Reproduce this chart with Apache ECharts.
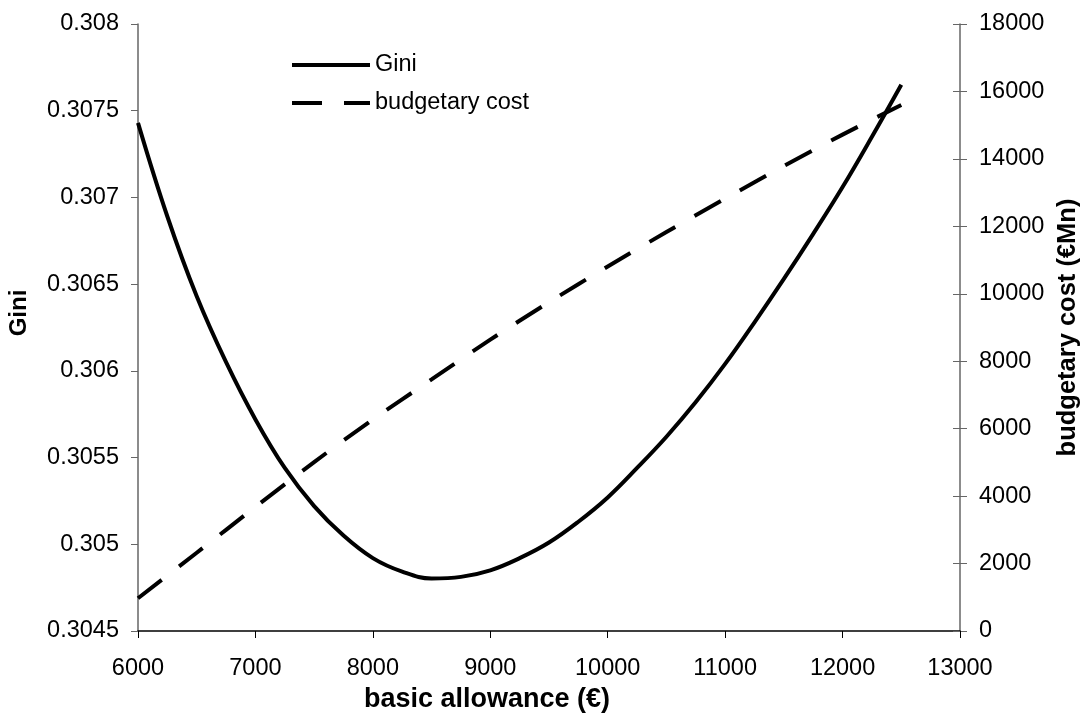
<!DOCTYPE html>
<html>
<head>
<meta charset="utf-8">
<script src="https://cdn.jsdelivr.net/npm/echarts@6/dist/echarts.min.js"></script>
<style>
html,body{margin:0;padding:0;background:#fff;}
#c{width:1083px;height:720px;}
</style>
</head>
<body>
<div id="c"></div>
<script>
// basic allowance (€)
const allowance = [6000,6250,6500,6750,7000,7250,7500,7750,8000,8250,8500,8750,9000,9250,9500,9750,10000,10250,10500,10750,11000,11250,11500,11750,12000,12250,12500];
const gini = [0.30743,0.30689,0.30643,0.30605,0.30572,0.30544,0.30522,0.30505,0.30492,0.304842,0.304803,0.304812,0.30485,0.30492,0.30501,0.30513,0.30527,0.30544,0.30562,0.30582,0.30604,0.30628,0.30653,0.30679,0.30706,0.30735,0.30765];
const costAllowance = [6000,6500,7000,7500,8000,8500,9000,9500,10000,10500,11000,11500,12000,12500];
const cost = [970,2320,3680,5010,6270,7460,8640,9750,10810,11830,12820,13790,14720,15600];

const FONT = 'Liberation Sans, Arial, sans-serif';
const giniData = allowance.map((x,i)=>[x,gini[i]]);
const costData = costAllowance.map((x,i)=>[x,cost[i]]);

const chart = echarts.init(document.getElementById('c'));
chart.setOption({
  animation:false,
  backgroundColor:'#fff',
  textStyle:{fontFamily:FONT},
  grid:{left:138,right:123,top:24,bottom:89,containLabel:false,outerBoundsMode:'none'},
  legend:{
    orient:'vertical', left:290, top:53, padding:0, itemWidth:78, itemHeight:14, itemGap:14,
    itemStyle:{opacity:0},
    lineStyle:{width:4},
    textStyle:{fontFamily:FONT,fontSize:23.5,color:'#000'},
    data:[{name:'Gini'},{name:'budgetary cost'}]
  },
  xAxis:{
    type:'value', min:6000, max:13000, interval:1000,
    name:'basic allowance (€)', nameLocation:'middle', nameGap:55,
    nameTextStyle:{fontFamily:FONT,fontSize:27,fontWeight:'bold',color:'#000',padding:[0,124,0,0]},
    axisLine:{show:true,onZero:false,lineStyle:{color:'#000',width:1.5}},
    axisTick:{show:true,length:7,lineStyle:{color:'#000'}},
    axisLabel:{fontFamily:FONT,fontSize:23.5,color:'#000',margin:26,formatter:v=>String(v)},
    splitLine:{show:false}
  },
  yAxis:[
    {
      type:'value', min:0.3045, max:0.308, interval:0.0005, position:'left',
      name:'Gini', nameLocation:'middle', nameGap:107, nameRotate:90,
      nameTextStyle:{fontFamily:FONT,fontSize:24,fontWeight:'bold',color:'#000',padding:[0,0,0,29]},
      axisLine:{show:true,lineStyle:{color:'#666',width:1.5}},
      axisTick:{show:true,length:7,lineStyle:{color:'#666'}},
      axisLabel:{fontFamily:FONT,fontSize:23.5,color:'#000',margin:19,formatter:v=>String(+v.toFixed(4))},
      splitLine:{show:false}
    },
    {
      type:'value', min:0, max:18000, interval:2000, position:'right',
      name:'budgetary cost (€Mn)', nameLocation:'middle', nameGap:92, nameRotate:90,
      nameTextStyle:{fontFamily:FONT,fontSize:25.5,fontWeight:'bold',color:'#000'},
      axisLine:{show:true,lineStyle:{color:'#666',width:1.5}},
      axisTick:{show:true,length:7,lineStyle:{color:'#666'}},
      axisLabel:{fontFamily:FONT,fontSize:23.5,color:'#000',margin:19,formatter:v=>String(v)},
      splitLine:{show:false}
    },
    {
      type:'value', min:0, max:18000, interval:2000, position:'right',
      axisLine:{show:false},
      axisTick:{show:true,inside:true,length:7,lineStyle:{color:'#666'}},
      axisLabel:{show:false},
      splitLine:{show:false}
    }
  ],
  series:[
    {
      name:'Gini', type:'line', yAxisIndex:0, data:giniData, smooth:0.4,
      symbol:'none', lineStyle:{color:'#000',width:4}, itemStyle:{color:'#000'}
    },
    {
      name:'budgetary cost', type:'line', yAxisIndex:1, data:costData, smooth:0.3,
      symbol:'none', lineStyle:{color:'#000',width:4,type:[30,22]}, itemStyle:{color:'#000'}
    }
  ]
});
</script>
</body>
</html>
